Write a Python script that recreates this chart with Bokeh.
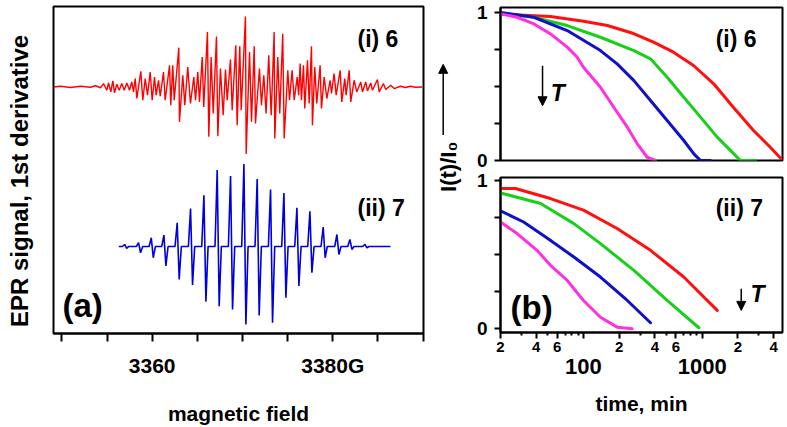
import math
from bokeh.plotting import figure
from bokeh.layouts import row, column
from bokeh.models import Range1d, FixedTicker, Label, Arrow, NormalHead, LogAxis
from bokeh.embed import file_html
from bokeh.resources import INLINE

FONT = "Liberation Sans"

# ---------------- (a) EPR spectra ----------------
red_field = [3349.07, 3349.85, 3350.95, 3352.06, 3353.17, 3353.72, 3354.28,
             3354.61, 3354.97, 3355.16, 3355.42, 3355.64, 3355.83, 3356.08, 3356.35, 3356.63, 3356.90,
             3357.19, 3357.49, 3357.74, 3357.93, 3358.12, 3358.30, 3358.74, 3358.96, 3359.23, 3359.48,
             3359.78, 3360.00, 3360.26, 3360.44, 3360.70, 3360.89, 3361.25, 3361.44, 3361.92, 3362.06,
             3362.28, 3362.44,
             3362.95, 3363.02, 3363.39, 3363.61, 3363.94, 3364.24, 3364.61, 3364.80, 3365.05, 3365.24,
             3365.54, 3365.71, 3366.12, 3366.27, 3366.53, 3366.76, 3367.12, 3367.27, 3367.56, 3367.86,
             3368.12, 3368.31, 3368.67, 3368.86, 3369.26, 3369.41, 3369.70, 3369.86, 3370.33, 3370.41,
             3370.78, 3371.00, 3371.30, 3371.44, 3371.88, 3372.10, 3372.36, 3372.62, 3372.91, 3373.18,
             3373.51, 3373.58, 3373.91, 3374.13, 3374.46, 3374.62, 3375.02, 3375.21, 3375.50, 3375.73,
             3376.06, 3376.22,
             3376.39, 3376.53, 3376.76, 3376.90, 3377.20, 3377.39, 3377.64, 3377.75, 3378.01, 3378.23,
             3378.60, 3378.75, 3379.05, 3379.34, 3379.71, 3379.86, 3380.15, 3380.38, 3380.82, 3381.00,
             3381.33, 3381.48, 3381.82, 3381.99, 3382.37, 3382.66, 3383.10, 3383.29, 3383.65, 3383.84,
             3384.21, 3384.40, 3384.95, 3385.14, 3385.61, 3385.87, 3386.42, 3386.80, 3387.50, 3388.05,
             3388.60, 3389.16, 3389.93]
red_signal = [0, 0.07, -0.06, 0.07, -0.03, 0.12, -0.08,
              0.34, -0.33, 0.40, -0.50, 0.60, -0.60, 0.27, -0.33, 0.34, -0.33,
              0.40, -0.33, 0.50, -0.50, 0.84, -1.16, 1.57, -1.33, 0.84, -0.83,
              1.50, -1.33, 1.00, -0.83, 0.67, -0.93, 1.50, -1.33, 2.17, -1.83,
              2.17, -1.33,
              3.94, -3.50, 1.17, -1.83, 2.00, -1.66, 1.00, -1.33, 1.50, -1.50,
              3.00, -2.00, 5.50, -5.00, 3.00, -2.66, 5.07, -4.93, 1.84, -2.83,
              1.74, -1.33, 2.74, -2.33, 4.17, -3.83, 4.07, -2.33, 7.07, -6.73,
              3.50, -3.50, 4.07, -3.66, 1.84, -1.83, 1.17, -2.66, 3.17, -2.83,
              5.50, -5.16, 3.00, -2.66, 5.34, -5.16, 1.67, -1.33, 1.67, -1.33,
              1.00, -0.83,
              2.34, -1.33, 2.17, -2.16, 2.67, -1.66, 4.07, -3.83, 2.00, -1.66,
              2.17, -2.16, 1.00, -1.16, 0.67, -0.66, 1.34, -0.83, 1.67, -1.50,
              0.84, -0.83, 1.67, -1.50, 0.67, -0.50, 0.50, -0.50, 0.50, -0.40,
              0.40, -0.33, 0.74, -0.50, 0.34, -0.26, 0.17, -0.16, 0.07, -0.06,
              0.07, -0.03, 0]
assert len(red_field) == len(red_signal)

blue_centers = [3357.01, 3358.55, 3359.96, 3361.36, 3362.83, 3364.31, 3365.79, 3367.26, 3368.74,
                3370.22, 3371.69, 3373.17, 3374.65, 3376.09, 3377.53, 3379.00, 3380.52, 3381.96, 3383.62]
blue_up = [0.20, 0.37, 0.87, 1.14, 2.37, 3.80, 5.14, 7.67, 7.07, 8.27, 6.77, 5.72, 5.37, 3.87,
           3.54, 1.94, 1.20, 0.70, 0.22]
blue_down = [0.18, 0.63, 1.13, 1.96, 3.30, 3.86, 5.53, 6.00, 6.33, 7.83, 6.93, 7.66, 5.15, 3.96,
             2.63, 1.13, 0.80, 0.30, 0.13]
blue_field_start, blue_field_end = 3356.3, 3386.4
blue_offset = -16.0   # vertical stacking of trace (ii)

ticks_a_major = [3360, 3380]
ticks_a_minor = [3350, 3355, 3365, 3370, 3375, 3385, 3390]

# ---------------- (b) decay curves ----------------
# (i) 6
t6_red = [20, 52.7, 100, 159, 264, 389, 573, 845, 1245, 1837, 2707, 3765, 4650]
y6_red = [0.99, 0.973, 0.941, 0.912, 0.858, 0.80, 0.732, 0.642, 0.52, 0.358, 0.203, 0.088, 0.01]
t6_green = [20, 38.2, 73, 139, 266, 367, 507, 700, 968, 1339, 1849, 2104, 2815]
y6_green = [0.995, 0.968, 0.912, 0.833, 0.743, 0.687, 0.563, 0.428, 0.293, 0.158, 0.045, 0.0, 0.0]
t6_blue = [20, 38.2, 73, 139, 192, 266, 367, 507, 700, 851, 968, 1175]
y6_blue = [1.0, 0.968, 0.878, 0.743, 0.653, 0.54, 0.405, 0.27, 0.135, 0.045, 0.0, 0.0]
t6_mag = [20, 27.6, 38.2, 52.7, 73, 88.6, 100, 139, 180, 234, 284, 344, 404]
y6_mag = [0.991, 0.968, 0.923, 0.856, 0.766, 0.698, 0.63, 0.495, 0.36, 0.225, 0.113, 0.022, 0.0]
# (ii) 7
t7_red = [20, 26.7, 52.7, 100, 192, 367, 700, 1339]
y7_red = [0.946, 0.946, 0.878, 0.80, 0.676, 0.529, 0.349, 0.124]
t7_green = [20, 43.5, 83, 139, 266, 507, 938]
y7_green = [0.916, 0.845, 0.709, 0.574, 0.394, 0.191, 0.007]
t7_blue = [20, 31.3, 48, 83, 139, 234, 367]
y7_blue = [0.795, 0.72, 0.619, 0.484, 0.349, 0.191, 0.041]
t7_mag = [20, 27.6, 40.6, 52.7, 73, 100, 139, 192, 257]
y7_mag = [0.72, 0.642, 0.529, 0.428, 0.326, 0.191, 0.078, 0.011, 0.0]

time_major = [20, 40, 60, 100, 200, 400, 600, 1000, 2000, 4000]
time_minor = [30, 50, 70, 80, 90, 300, 500, 700, 800, 900, 3000]
time_labels = {20: "2", 40: "4", 60: "6", 100: "", 200: "2", 400: "4", 600: "6",
               1000: "", 2000: "2", 4000: "4"}
decade_ticks = [100, 1000]

RED, GREEN, BLUE, MAG = "#ff1010", "#18d018", "#1010c8", "#ff30e0"
EPR_RED, EPR_BLUE = "#ff0000", "#0000dd"


def style_frame(p):
    p.grid.visible = False
    p.outline_line_color = "black"
    p.outline_line_width = 2
    p.outline_line_alpha = 1.0
    p.background_fill_color = "white"
    p.border_fill_color = "white"


def text_label(p, x, y, txt, size, style="bold", align="left", baseline="middle", angle=0.0):
    p.add_layout(Label(x=x, y=y, text=txt, text_font=FONT, text_font_size=size,
                       text_font_style=style, text_align=align, text_baseline=baseline,
                       angle=angle, text_color="black"))


def blank_strip(width):
    # text strip; its frame shares the vertical extent of panel (a)'s frame (6..334 px)
    p = figure(width=width, height=427, x_range=Range1d(0, width), y_range=Range1d(334, 6),
               output_backend="svg", toolbar_location=None, x_axis_location=None,
               y_axis_location=None, min_border_left=0, min_border_right=0,
               min_border_top=6, min_border_bottom=93, outline_line_color=None)
    p.grid.visible = False
    return p


# ---------- y label of panel (a) ----------
pl = blank_strip(40)
text_label(pl, 19, 181, "EPR signal, 1st derivative", "24px", align="center",
           angle=math.pi / 2)

# ---------- panel (a) ----------
pa = figure(width=392, height=427, x_range=Range1d(3349.07, 3390.05), y_range=Range1d(-24.73, 8.07),
            output_backend="svg", toolbar_location=None, y_axis_location=None,
            min_border_left=13, min_border_right=9, min_border_top=6, min_border_bottom=93)
style_frame(pa)
pa.line(red_field, red_signal, line_color=EPR_RED, line_width=1.4)
bx = [blue_field_start]
by = [0.0]
for c, u, d in zip(blue_centers, blue_up, blue_down):
    bx += [c - 0.30, c - 0.06, c + 0.16, c + 0.40]
    by += [0.0, u, -d, 0.0]
bx.append(blue_field_end)
by.append(0.0)
pa.line(bx, [v + blue_offset for v in by], line_color=EPR_BLUE, line_width=1.6)

ax = pa.xaxis[0]
ax.ticker = FixedTicker(ticks=ticks_a_major, minor_ticks=ticks_a_minor)
ax.major_label_overrides = {3380: "3380G"}
ax.axis_line_width = 2
ax.major_tick_line_width = 2
ax.minor_tick_line_width = 2
ax.major_tick_out = 8
ax.major_tick_in = 0
ax.minor_tick_out = 8
ax.minor_tick_in = 0
ax.major_label_standoff = 12
ax.major_label_text_font = FONT
ax.major_label_text_font_style = "bold"
ax.major_label_text_font_size = "21px"
ax.major_label_text_color = "black"
ax.axis_label = "magnetic field"
ax.axis_label_text_font = FONT
ax.axis_label_text_font_style = "bold"
ax.axis_label_text_font_size = "21px"
ax.axis_label_text_color = "black"
ax.axis_label_standoff = 22

text_label(pa, 3382.74, 4.77, "(i) 6", "23px")
text_label(pa, 3382.74, -12.13, "(ii) 7", "23px")
text_label(pa, 3350.07, -21.93, "(a)", "33px")

# ---------- shared y label of panel (b) ----------
pm = blank_strip(33)
pm.add_layout(Arrow(end=NormalHead(size=9, fill_color="black", line_color="black"),
                    x_start=10.7, y_start=135, x_end=10.7, y_end=64,
                    line_width=1.5, line_color="black"))
text_label(pm, 16, 192, "I(t)/I\u2080", "22px", align="left", angle=math.pi / 2)


def style_y(p):
    ay = p.yaxis[0]
    ay.ticker = FixedTicker(ticks=[0, 1], minor_ticks=[0.25, 0.5, 0.75])
    ay.axis_line_width = 2
    ay.major_tick_line_width = 2
    ay.minor_tick_line_width = 2
    ay.major_tick_out = 6
    ay.major_tick_in = 0
    ay.minor_tick_out = 6
    ay.minor_tick_in = 0
    ay.major_label_standoff = 7
    ay.major_label_text_font = FONT
    ay.major_label_text_font_style = "bold"
    ay.major_label_text_font_size = "19px"
    ay.major_label_text_color = "black"


def curves(p, series):
    for t, y, col in series:
        p.line(t, y, line_color=col, line_width=3, line_cap="round", line_join="round")


# ---------- panel (b)(i) ----------
pb1 = figure(width=322, height=170, x_axis_type="log", x_range=Range1d(20, 4750),
             y_range=Range1d(0, 1.034), output_backend="svg", toolbar_location=None,
             x_axis_location=None, min_border_left=35, min_border_right=5,
             min_border_top=7, min_border_bottom=10)
style_frame(pb1)
style_y(pb1)
curves(pb1, [(t6_red, y6_red, RED), (t6_green, y6_green, GREEN),
             (t6_blue, y6_blue, BLUE), (t6_mag, y6_mag, MAG)])
text_label(pb1, 1300, 0.818, "(i) 6", "23px")
pb1.add_layout(Arrow(end=NormalHead(size=9, fill_color="black", line_color="black"),
                     x_start=45.2, y_start=0.64, x_end=45.2, y_end=0.37,
                     line_width=1.5, line_color="black"))
text_label(pb1, 53, 0.456, "T", "23px", style="bold italic")

# ---------- panel (b)(ii) ----------
pb2 = figure(width=322, height=257, x_axis_type="log", x_range=Range1d(20, 4750),
             y_range=Range1d(-0.025, 1.020), output_backend="svg", toolbar_location=None,
             min_border_left=35, min_border_right=5, min_border_top=7, min_border_bottom=95)
style_frame(pb2)
style_y(pb2)
curves(pb2, [(t7_red, y7_red, RED), (t7_green, y7_green, GREEN),
             (t7_blue, y7_blue, BLUE), (t7_mag, y7_mag, MAG)])
text_label(pb2, 1300, 0.816, "(ii) 7", "23px")
text_label(pb2, 24.3, 0.144, "(b)", "33px")
pb2.add_layout(Arrow(end=NormalHead(size=9, fill_color="black", line_color="black"),
                     x_start=2133, y_start=0.27, x_end=2133, y_end=0.124,
                     line_width=1.5, line_color="black"))
text_label(pb2, 2550, 0.232, "T", "23px", style="bold italic")

bx1 = pb2.xaxis[0]
bx1.ticker = FixedTicker(ticks=time_major, minor_ticks=time_minor)
bx1.major_label_overrides = time_labels
bx1.axis_line_width = 2
bx1.major_tick_line_width = 2
bx1.minor_tick_line_width = 2
bx1.major_tick_out = 6
bx1.major_tick_in = 0
bx1.minor_tick_out = 3
bx1.minor_tick_in = 0
bx1.major_label_standoff = 3
bx1.major_label_text_font = FONT
bx1.major_label_text_font_style = "bold"
bx1.major_label_text_font_size = "15px"
bx1.major_label_text_color = "black"

bx2 = LogAxis(ticker=FixedTicker(ticks=decade_ticks),
              major_label_overrides={100: "100", 1000: "1000"},
              axis_line_color=None, major_tick_line_color=None, minor_tick_line_color=None,
              major_tick_out=0, major_tick_in=0, minor_tick_out=0, minor_tick_in=0,
              major_label_standoff=4, major_label_text_font=FONT,
              major_label_text_font_style="bold", major_label_text_font_size="22px",
              major_label_text_color="black",
              axis_label="time, min", axis_label_text_font=FONT,
              axis_label_text_font_style="bold", axis_label_text_font_size="21px",
              axis_label_text_color="black", axis_label_standoff=15)
pb2.add_layout(bx2, "below")

layout = row(pl, pa, pm, column(pb1, pb2))
open("out.html", "w").write(file_html(layout, INLINE))
